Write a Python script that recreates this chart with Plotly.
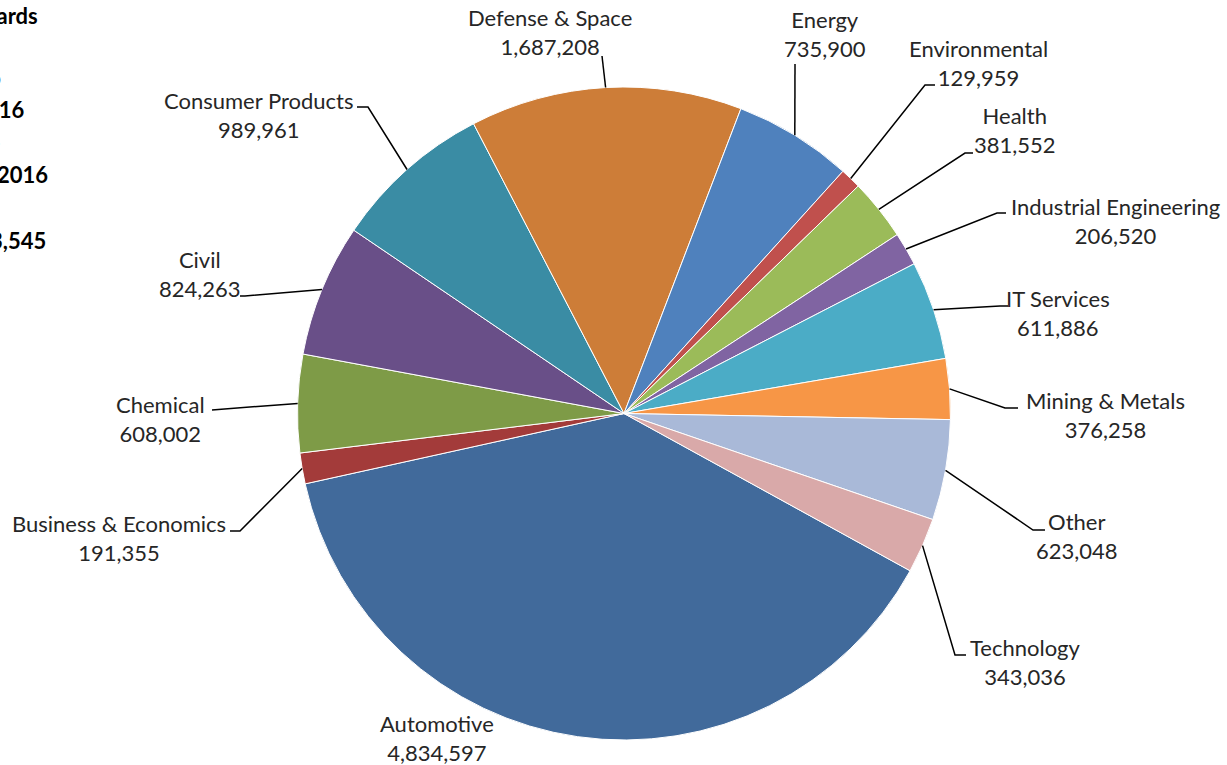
import math
import plotly.graph_objects as go

# ---------------- data ----------------
categories = ["Automotive", "Business & Economics", "Chemical", "Civil",
              "Consumer Products", "Defense & Space", "Energy", "Environmental",
              "Health", "Industrial Engineering", "IT Services", "Mining & Metals",
              "Other", "Technology"]
values = [4834597, 191355, 608002, 824263, 989961, 1687208, 735900, 129959,
          381552, 206520, 611886, 376258, 623048, 343036]
colors = ["#416A9B", "#A33B3A", "#7E9B47", "#694F88", "#3A8CA4", "#CD7D38",
          "#4F81BD", "#C0504D", "#9BBB59", "#8064A2", "#4BACC6", "#F79646",
          "#A9B9D8", "#D9A9A9"]

# ---------------- layout settings ----------------
W, H = 1227, 765                     # figure size (page body margin removed below)
OFF = 0
CX, CY, R = 624, 413.5, 326.5        # pie centre / radius in page pixels
ROT = 118.8                          # start angle of first slice (deg, clockwise from 12 o'clock)
FONT = "Lato"
FS = 22

# label centre (page px) and leader-line bend points (page px) for each category
label_layout = {
    "Automotive": ((437, 738), []),
    "Business & Economics": ((119, 538), [(240, 531), (230, 531)]),
    "Chemical": ((160, 419), [(212, 410)]),
    "Civil": ((200, 274), [(245, 296), (240, 296)]),
    "Consumer Products": ((258, 115), [(368, 107), (357, 107)]),
    "Defense & Space": ((550, 32), [(602, 56)]),
    "Energy": ((825, 34), [(795, 64)]),
    "Environmental": ((978, 63), [(925, 85), (935, 85)]),
    "Health": ((1015, 130), [(965, 153), (973, 153)]),
    "Industrial Engineering": ((1115, 221), [(997, 213), (1006, 213)]),
    "IT Services": ((1058, 313), [(1000, 306), (1008, 306)]),
    "Mining & Metals": ((1105, 415), [(1005, 408), (1018, 408)]),
    "Other": ((1077, 536), [(1033, 530), (1045, 530)]),
    "Technology": ((1025, 662), [(955, 655), (966, 655)]),
}


def px2paper(x, y):
    return (x - OFF) / W, 1 - (y - OFF) / H


fig = go.Figure()
fig.add_trace(go.Pie(
    labels=categories, values=values, sort=False, direction="clockwise",
    rotation=ROT,
    marker=dict(colors=colors, line=dict(color="white", width=1)),
    textinfo="none", textposition="inside", showlegend=False,
    domain=dict(x=[(CX - R - OFF) / W, (CX + R - OFF) / W],
                y=[(H - (CY - OFF) - R) / H, (H - (CY - OFF) + R) / H]),
))

total = sum(values)
annotations = []
shapes = []
cum = 0.0
for cat, val in zip(categories, values):
    a0 = ROT + 360.0 * cum / total
    cum += val
    a1 = ROT + 360.0 * cum / total
    mid = math.radians((a0 + a1) / 2)
    ex, ey = CX + R * math.sin(mid), CY - R * math.cos(mid)
    (lx, ly), bends = label_layout[cat]
    x, y = px2paper(lx, ly)
    annotations.append(dict(
        x=x, y=y, xref="paper", yref="paper", xanchor="center", yanchor="middle",
        text=f"{cat}<br>{val:,}", showarrow=False, align="center",
        font=dict(family=FONT, size=FS, color="#262626")))
    if bends:
        pts = [(ex, ey)] + bends
        path = "M " + " L ".join(
            f"{px2paper(px, py)[0]:.5f},{px2paper(px, py)[1]:.5f}" for px, py in pts)
        shapes.append(dict(type="path", path=path, xref="paper", yref="paper",
                           line=dict(color="black", width=1.5)))

# partially visible title block at the top-left
title_lines = [("Total Awards", 40, 15),
               ("Period: Jan 1 to", 3, 78),
               ("Dec 31, 2016", 27, 110),
               ("Prior period -", 3, 142),
               ("Jan 1 - Dec 31, 2016", 50, 175),
               (f"Total: {total:,}", 48, 240)]
for txt, rx, ry in title_lines:
    x, y = px2paper(rx, ry)
    annotations.append(dict(
        x=x, y=y, xref="paper", yref="paper", xanchor="right", yanchor="middle",
        text=f"<b>{txt}</b>", showarrow=False,
        font=dict(family=FONT, size=FS, color="black")))

fig.update_layout(
    width=W, height=H, margin=dict(l=0, r=0, t=0, b=0),
    paper_bgcolor="white", plot_bgcolor="white",
    annotations=annotations, shapes=shapes,
)
fig.write_html("out.html", config={"displayModeBar": False},
               post_script="document.body.style.margin='0px';document.body.style.overflow='hidden';")
